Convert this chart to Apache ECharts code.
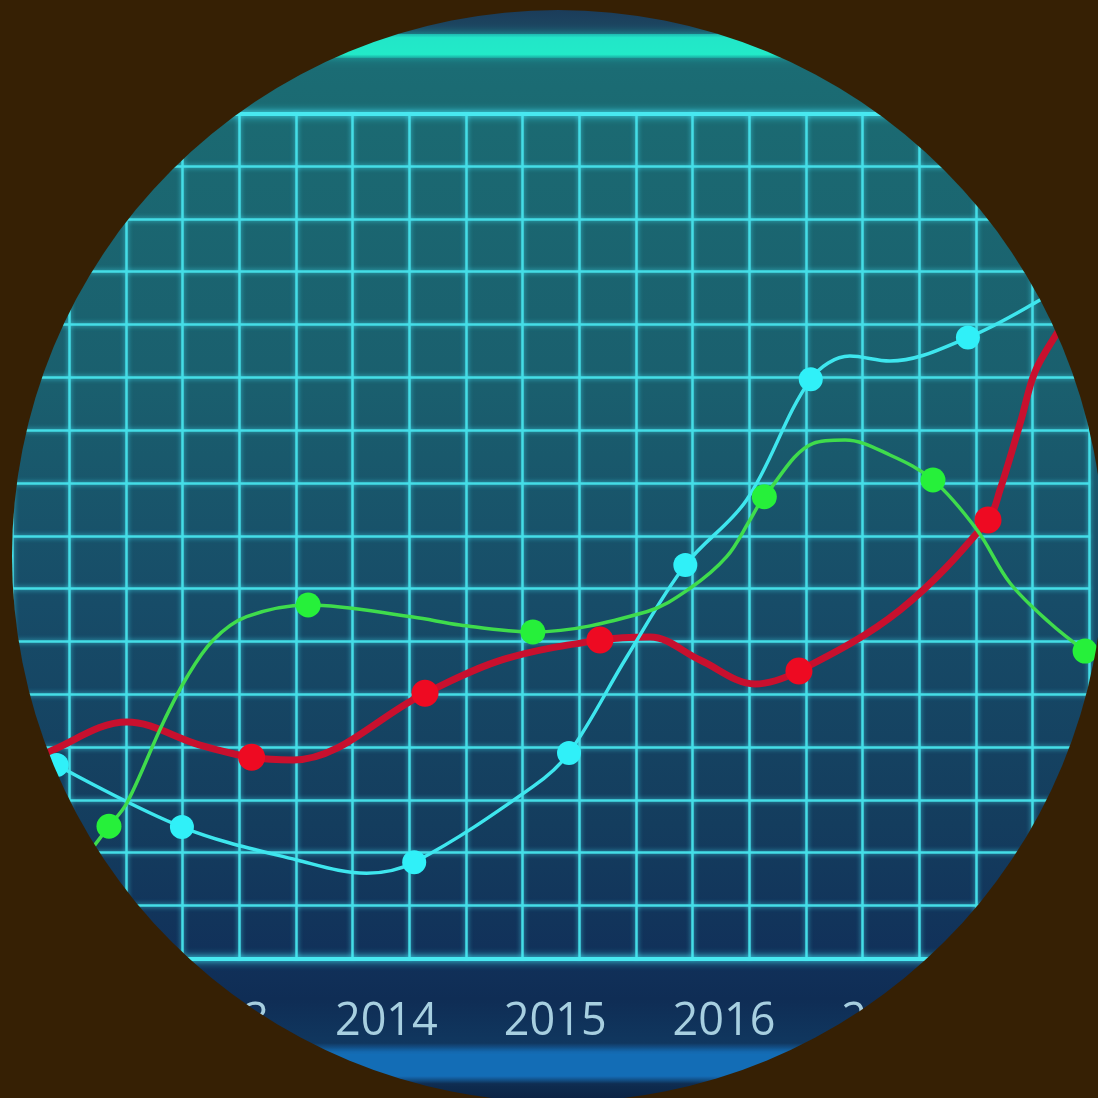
<!DOCTYPE html>
<html>
<head>
<meta charset="utf-8">
<script src="https://cdn.jsdelivr.net/npm/echarts@6.0.0/dist/echarts.min.js"></script>
<style>
  html, body { margin: 0; padding: 0; background: #362004; }
  #chart { width: 1098px; height: 1098px; clip-path: circle(546px at 558px 556px); }
</style>
</head>
<body>
<div id="chart"></div>
<script>
// ---- data (x in years, y in grid units 0..80) ----
const yearLabels = [2013, 2014, 2015, 2016, 2017];
const xMin = 2011.786, xMax = 2018.164;
const yMin = 0, yMax = 80;
const gridColumns = 19;

// [year, value, isMarker]
const cyanPoints = [
  [2012.047, 18.30, 1], [2012.789, 12.43, 1], [2013.470, 9.31, 0], [2013.883, 8.05, 0],
  [2014.165, 9.09, 1], [2014.868, 16.25, 0], [2015.082, 19.44, 1], [2015.425, 28.55, 0],
  [2015.771, 37.24, 1], [2016.134, 43.39, 0], [2016.514, 54.82, 1], [2016.746, 57.02, 0],
  [2016.983, 56.55, 0], [2017.445, 58.77, 1], [2017.872, 62.32, 0], [2018.162, 65.16, 0]
];
const redPoints = [
  [2011.794, 17.64, 0], [2012.025, 19.72, 0], [2012.463, 22.37, 0], [2012.896, 20.19, 0],
  [2013.202, 19.03, 1], [2013.448, 18.77, 0], [2014.229, 25.09, 1], [2014.703, 28.34, 0],
  [2015.265, 30.13, 1], [2015.562, 30.42, 0], [2015.858, 28.24, 0], [2016.184, 25.97, 0],
  [2016.444, 27.20, 1], [2017.043, 32.98, 0], [2017.564, 41.50, 1], [2017.635, 44.34, 0],
  [2017.760, 50.96, 0], [2017.842, 55.51, 0], [2017.973, 59.20, 0], [2018.080, 61.85, 0]
];
const greenPoints = [
  [2012.215, 9.50, 0], [2012.357, 12.50, 1], [2012.463, 14.70, 0], [2012.677, 22.28, 0],
  [2012.819, 26.63, 0], [2012.975, 30.13, 0], [2013.172, 32.34, 0], [2013.537, 33.45, 1],
  [2014.158, 32.31, 0], [2014.436, 31.56, 0], [2014.868, 30.89, 1], [2015.542, 32.81, 0],
  [2015.799, 35.03, 0], [2016.016, 38.02, 0], [2016.154, 41.50, 0], [2016.239, 43.70, 1],
  [2016.529, 48.76, 0], [2016.717, 49.07, 0], [2016.983, 47.65, 0], [2017.238, 45.28, 1],
  [2017.499, 40.55, 0], [2017.694, 35.53, 0], [2017.931, 31.74, 0], [2018.139, 29.09, 1]
];

function toData(points, size) {
  return points.map(p => ({
    value: [p[0], p[1]],
    symbol: p[2] ? 'circle' : 'none',
    symbolSize: p[2] ? size : 0
  }));
}

const gridLine = { color: '#45dde6', width: 2.5, shadowBlur: 5, shadowColor: 'rgba(70,240,255,0.7)' };
const borderLine = { color: '#48e8f0', width: 4, shadowBlur: 8, shadowColor: 'rgba(70,240,255,0.9)' };

const chart = echarts.init(document.getElementById('chart'), null, { renderer: 'canvas' });
chart.setOption({
  animation: false,
  graphic: {
    elements: [
      {
        type: 'rect', z: -100, silent: true,
        shape: { x: 0, y: 0, width: 1098, height: 1098 },
        style: {
          fill: {
            type: 'linear', x: 0, y: 0, x2: 0, y2: 1,
            colorStops: [
              { offset: 0, color: '#1b3656' },
              { offset: 0.028, color: '#1c4862' },
              { offset: 0.06, color: '#1b6c74' },
              { offset: 0.10, color: '#1b6a72' },
              { offset: 0.35, color: '#1a5f6e' },
              { offset: 0.55, color: '#174c68' },
              { offset: 0.75, color: '#143d5e' },
              { offset: 0.87, color: '#11315a' },
              { offset: 0.91, color: '#0f2d55' },
              { offset: 0.95, color: '#10375f' },
              { offset: 0.958, color: '#1364a8' },
              { offset: 0.98, color: '#1466ac' },
              { offset: 0.987, color: '#0e2c50' },
              { offset: 1, color: '#0c2445' }
            ]
          }
        }
      },
      {
        type: 'rect', z: -90, silent: true,
        shape: { x: 0, y: 34, width: 1098, height: 24 },
        style: {
          fill: {
            type: 'linear', x: 0, y: 0, x2: 0, y2: 1,
            colorStops: [
              { offset: 0, color: '#1fb8b0' },
              { offset: 0.15, color: '#22e6c8' },
              { offset: 0.85, color: '#22eac8' },
              { offset: 1, color: '#1aa8a0' }
            ]
          },
          shadowBlur: 10, shadowColor: 'rgba(30,220,200,0.6)'
        }
      },
      {
        type: 'rect', z: -90, silent: true,
        shape: { x: 0, y: 1054, width: 1098, height: 22 },
        style: { fill: '#136db6', shadowBlur: 8, shadowColor: 'rgba(20,120,200,0.7)' }
      }
    ]
  },
  grid: { left: 12.6, right: 8.7, top: 113.3, bottom: 139.7 },
  xAxis: [
    {
      type: 'value', min: xMin, max: xMax, position: 'bottom',
      splitLine: { show: false },
      axisTick: { show: false },
      axisLine: { show: true, lineStyle: borderLine },
      axisLabel: {
        customValues: yearLabels,
        formatter: v => String(Math.round(v)),
        fontSize: 45, color: '#a7cfe0', margin: 41,
        fontFamily: 'Open Sans'
      }
    },
    {
      type: 'value', min: 0, max: gridColumns, interval: 1, position: 'top',
      axisLine: { show: true, lineStyle: borderLine },
      axisTick: { show: false },
      axisLabel: { show: false },
      splitLine: { show: true, lineStyle: gridLine }
    }
  ],
  yAxis: {
    type: 'value', min: yMin, max: yMax, interval: 5,
    axisLine: { show: false }, axisTick: { show: false }, axisLabel: { show: false },
    splitLine: { show: true, lineStyle: gridLine }
  },
  series: [
    {
      type: 'line', xAxisIndex: 0, smooth: 0.35,
      data: toData(redPoints, 27),
      lineStyle: { color: '#c8102e', width: 7 },
      itemStyle: { color: '#ee0a22', borderWidth: 0 },
      emphasis: { disabled: true }, z: 3
    },
    {
      type: 'line', xAxisIndex: 0, smooth: 0.35,
      data: toData(cyanPoints, 24),
      lineStyle: { color: '#3ee6ee', width: 3.5 },
      itemStyle: { color: '#30f0f8', borderWidth: 0 },
      emphasis: { disabled: true }, z: 4
    },
    {
      type: 'line', xAxisIndex: 0, smooth: 0.35,
      data: toData(greenPoints, 25),
      lineStyle: { color: '#3fdc4c', width: 3.5 },
      itemStyle: { color: '#26f03a', borderWidth: 0 },
      emphasis: { disabled: true }, z: 5
    }
  ]
});
</script>
</body>
</html>
